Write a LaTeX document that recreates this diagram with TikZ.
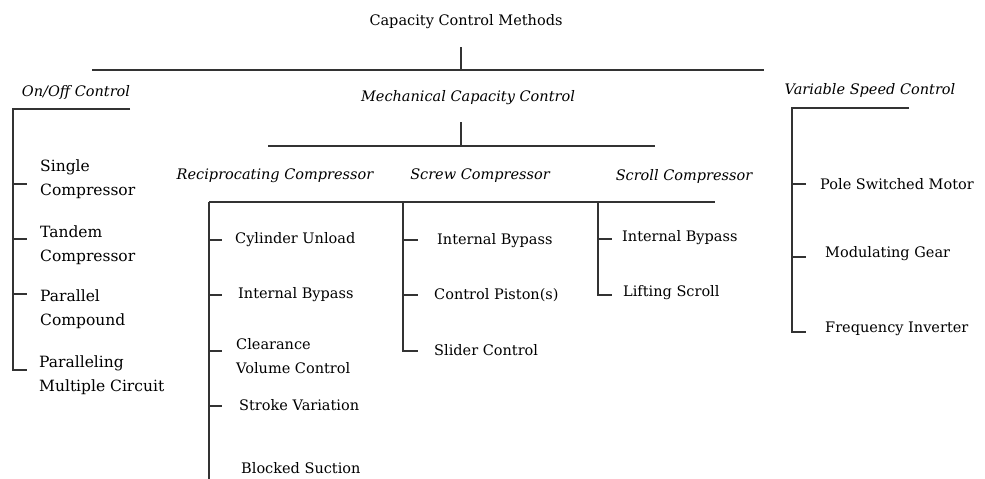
\documentclass[tikz,border=0pt]{standalone}
\usepackage{fontspec}
\setmainfont{DejaVu Serif}
\begin{document}
\begin{tikzpicture}[x=1pt,y=-1pt,
  lbl/.style={anchor=west,inner sep=0pt,align=left,font=\fontsize{14.5}{24}\selectfont},
  big/.style={font=\fontsize{15.5}{24}\selectfont},
  cat/.style={inner sep=0pt,font=\fontsize{14.5}{16}\selectfont\itshape},
  ln/.style={draw=black!80,line width=1.3pt}]
\useasboundingbox (0,0) rectangle (985,479);
% title
\node[inner sep=0pt,font=\fontsize{14.5}{16}\selectfont] (title) at (466,22) {Capacity Control Methods};
\coordinate (t1) at (461,47); \coordinate (t2) at (461,70);
\coordinate (b0l) at (92,70); \coordinate (b0r) at (764,70);
\draw[ln] (t1) -- (t2); \draw[ln] (b0l) -- (b0r);
% categories
\node[cat] (onoff) at (76,92) {On/Off Control};
\node[cat] (mech) at (468,98) {Mechanical Capacity Control};
\node[cat] (vsc) at (870,90) {Variable Speed Control};
% On/Off bracket
\coordinate (oo1) at (130,109); \coordinate (oo2) at (13,109); \coordinate (oo3) at (13,370);
\coordinate (oo4) at (27,370);
\draw[ln] (oo1) -- (oo2) -- (oo3) -- (oo4);
\foreach \y in {184,239,294} \draw[ln] (13,\y) -- (27,\y);
\node[lbl,big] (n1) at (40,179) {Single\\Compressor};
\node[lbl,big] (n2) at (40,245) {Tandem\\Compressor};
\node[lbl,big] (n3) at (40,309) {Parallel\\Compound};
\node[lbl,big] (n4) at (39,375) {Paralleling\\Multiple Circuit};
% Mechanical
\coordinate (m1) at (461,122); \coordinate (m2) at (461,146);
\coordinate (b1l) at (268,146); \coordinate (b1r) at (655,146);
\draw[ln] (m1) -- (m2); \draw[ln] (b1l) -- (b1r);
\node[cat] (recip) at (275,176) {Reciprocating Compressor};
\node[cat] (screw) at (480,176) {Screw Compressor};
\node[cat] (scroll) at (684,176) {Scroll Compressor};
\coordinate (b2l) at (209,202); \coordinate (b2r) at (715,202);
\draw[ln] (b2l) -- (b2r);
\coordinate (r0) at (209,490);
\draw[ln] (b2l) -- (r0);
\foreach \y in {240,295,351,406} \draw[ln] (209,\y) -- (222,\y);
\node[lbl] (r1) at (235,240) {Cylinder Unload};
\node[lbl] (r2) at (238,295) {Internal Bypass};
\node[lbl] (r3) at (236,356) {Clearance\\Volume Control};
\node[lbl] (r4) at (239,405) {Stroke Variation};
\node[lbl] (r5) at (241,468) {Blocked Suction};
% screw
\coordinate (s0) at (403,202); \coordinate (s1) at (403,351); \coordinate (s2) at (418,351);
\draw[ln] (s0) -- (s1) -- (s2);
\foreach \y in {240,295} \draw[ln] (403,\y) -- (418,\y);
\node[lbl] (sc1) at (437,241) {Internal Bypass};
\node[lbl] (sc2) at (434,295) {Control Piston(s)};
\node[lbl] (sc3) at (434,350) {Slider Control};
% scroll
\coordinate (c0) at (598,202); \coordinate (c1) at (598,295); \coordinate (c2) at (612,295);
\draw[ln] (c0) -- (c1) -- (c2);
\draw[ln] (598,239) -- (612,239);
\node[lbl] (sl1) at (622,238) {Internal Bypass};
\node[lbl] (sl2) at (623,293) {Lifting Scroll};
% variable speed
\coordinate (v1) at (909,108); \coordinate (v2) at (792,108); \coordinate (v3) at (792,332);
\coordinate (v4) at (806,332);
\draw[ln] (v1) -- (v2) -- (v3) -- (v4);
\foreach \y in {184,257} \draw[ln] (792,\y) -- (806,\y);
\node[lbl] (vs1) at (820,184) {Pole Switched Motor};
\node[lbl] (vs2) at (825,254) {Modulating Gear};
\node[lbl] (vs3) at (825,329) {Frequency Inverter};
\end{tikzpicture}
\end{document}
